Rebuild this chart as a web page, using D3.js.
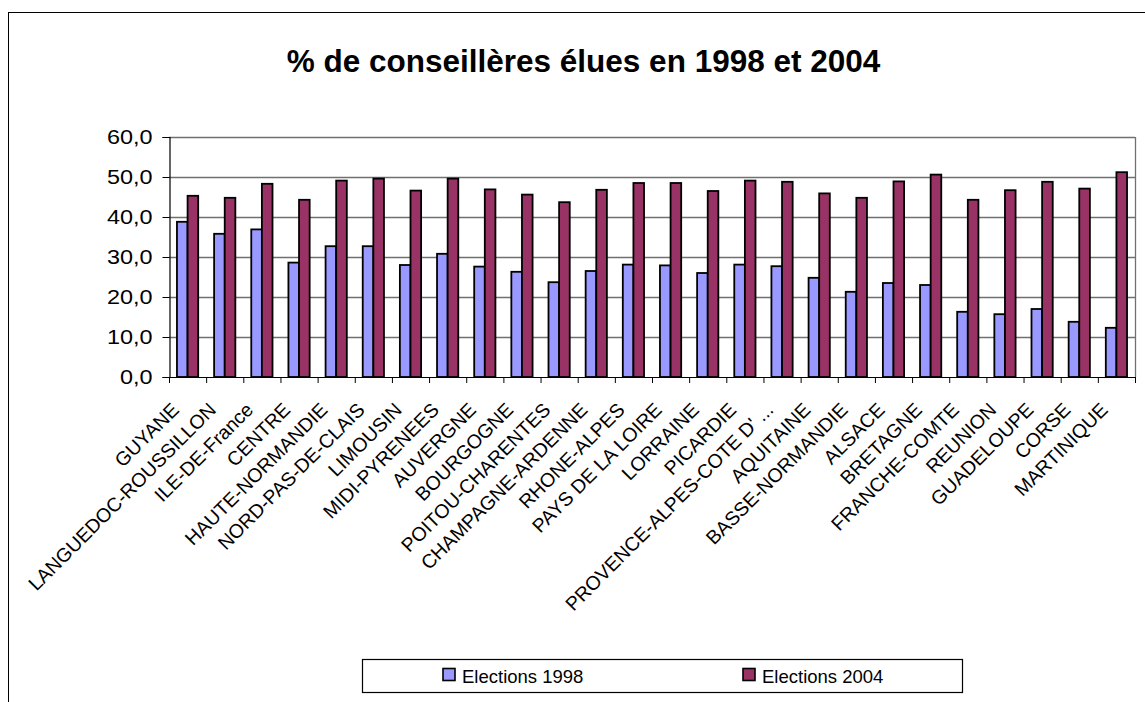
<!DOCTYPE html>
<html>
<head>
<meta charset="utf-8">
<script src="https://cdn.jsdelivr.net/npm/d3@7"></script>
<style>
  html, body { margin: 0; padding: 0; background: #fff; }
  svg { display: block; font-family: "Liberation Sans", Arial, sans-serif; }
</style>
</head>
<body>
<svg id="chart" width="1145" height="702"></svg>
<script>
const categories = ["GUYANE","LANGUEDOC-ROUSSILLON","ILE-DE-France","CENTRE","HAUTE-NORMANDIE","NORD-PAS-DE-CLAIS","LIMOUSIN","MIDI-PYRENEES","AUVERGNE","BOURGOGNE","POITOU-CHARENTES","CHAMPAGNE-ARDENNE","RHONE-ALPES","PAYS DE LA LOIRE","LORRAINE","PICARDIE","PROVENCE-ALPES-COTE D' ...","AQUITAINE","BASSE-NORMANDIE","ALSACE","BRETAGNE","FRANCHE-COMTE","REUNION","GUADELOUPE","CORSE","MARTINIQUE"];
const seriesNames = ["Elections 1998","Elections 2004"];
const values1998 = [38.8,35.8,36.9,28.6,32.7,32.7,28.0,30.8,27.6,26.3,23.7,26.5,28.1,27.9,26.0,28.1,27.7,24.8,21.3,23.5,23.0,16.3,15.7,17.0,13.8,12.3];
const values2004 = [45.3,44.8,48.3,44.3,49.1,49.6,46.6,49.6,46.9,45.6,43.7,46.8,48.5,48.5,46.5,49.1,48.8,45.9,44.8,48.9,50.6,44.3,46.7,48.8,47.1,51.2];
const yTicks = [0,10,20,30,40,50,60];
const titleText = "% de conseillères élues en 1998 et 2004";
const colors = ["#9999FF","#993366"];

const svg = d3.select("#chart");
const pLeft = 169, pRight = 1135, pTop = 137, pBottom = 377;

// outer frame
svg.append("rect").attr("x",8.5).attr("y",12.5).attr("width",1160).attr("height",720)
  .attr("fill","none").attr("stroke","#000").attr("stroke-width",1);

const x0 = d3.scaleBand().domain(categories).range([pLeft,pRight]).paddingInner(0).paddingOuter(0);
const x1 = d3.scaleBand().domain(seriesNames).range([0,x0.bandwidth()]).paddingInner(0).paddingOuter(0.75);
const y = d3.scaleLinear().domain([0,60]).range([pBottom,pTop]);

// gridlines
svg.append("g").selectAll("line").data(yTicks.filter(d=>d>0)).join("line")
  .attr("x1",pLeft).attr("x2",pRight).attr("y1",d=>y(d)+0.5).attr("y2",d=>y(d)+0.5)
  .attr("stroke","#707070").attr("stroke-width",1.3);
// right plot border
svg.append("line").attr("x1",pRight+0.5).attr("x2",pRight+0.5).attr("y1",pTop).attr("y2",pBottom)
  .attr("stroke","#707070").attr("stroke-width",1.3);

// bars
const data = categories.map((c,i)=>({cat:c, vals:[values1998[i],values2004[i]]}));
const groups = svg.append("g").selectAll("g").data(data).join("g")
  .attr("transform",d=>`translate(${x0(d.cat)},0)`);
groups.selectAll("rect").data(d=>d.vals.map((v,j)=>({s:seriesNames[j],v,j}))).join("rect")
  .attr("x",d=>x1(d.s)).attr("width",x1.bandwidth())
  .attr("y",d=>y(d.v)).attr("height",d=>y(0)-y(d.v))
  .attr("fill",d=>colors[d.j]).attr("stroke","#000").attr("stroke-width",1.8);

// y axis
const yAxis = d3.axisLeft(y).tickValues(yTicks).tickSize(7).tickPadding(10)
  .tickFormat(d=>d3.format(".1f")(d).replace(".",","));
const gy = svg.append("g").attr("transform",`translate(${pLeft+0.5},0)`).call(yAxis);
gy.select(".domain").attr("stroke","#000").attr("stroke-width",1.2);
gy.selectAll(".tick line").attr("stroke","#000");
gy.selectAll(".tick text").attr("font-size",19.5).attr("fill","#000")
  .attr("font-family","'Liberation Sans', Arial, sans-serif")
  .attr("transform","scale(1.2,1)").attr("x",-17/1.2);

// x axis line and ticks at category boundaries
const bounds = categories.map(c=>x0(c)).concat([x0.range()[1]]);
svg.append("line").attr("x1",pLeft).attr("x2",pRight).attr("y1",pBottom+0.5).attr("y2",pBottom+0.5)
  .attr("stroke","#000").attr("stroke-width",1.2);
svg.append("g").selectAll("line").data(bounds).join("line")
  .attr("x1",d=>d+0.5).attr("x2",d=>d+0.5).attr("y1",pBottom).attr("y2",pBottom+6)
  .attr("stroke","#000");

// category labels
svg.append("g").selectAll("text").data(categories).join("text")
  .attr("transform",c=>`translate(${x0(c)+x0.bandwidth()/2-7.5},${pBottom+34}) rotate(-45)`)
  .attr("text-anchor","end").attr("font-size",19.5).attr("fill","#000")
  .text(c=>c);

// title
svg.append("text").attr("x",583.5).attr("y",72).attr("text-anchor","middle")
  .attr("font-size",31.5).attr("font-weight","bold").attr("fill","#000").text(titleText);

// legend
const lg = svg.append("g");
lg.append("rect").attr("x",362.5).attr("y",659.5).attr("width",600).attr("height",33)
  .attr("fill","#fff").attr("stroke","#000").attr("stroke-width",1.2);
const legX = [443,743];
seriesNames.forEach((s,i)=>{
  lg.append("rect").attr("x",legX[i]).attr("y",668.5).attr("width",12).attr("height",12)
    .attr("fill",colors[i]).attr("stroke","#000").attr("stroke-width",1.6);
  lg.append("text").attr("x",legX[i]+19).attr("y",682.5).attr("font-size",18.5).attr("fill","#000").text(s);
});
</script>
</body>
</html>
